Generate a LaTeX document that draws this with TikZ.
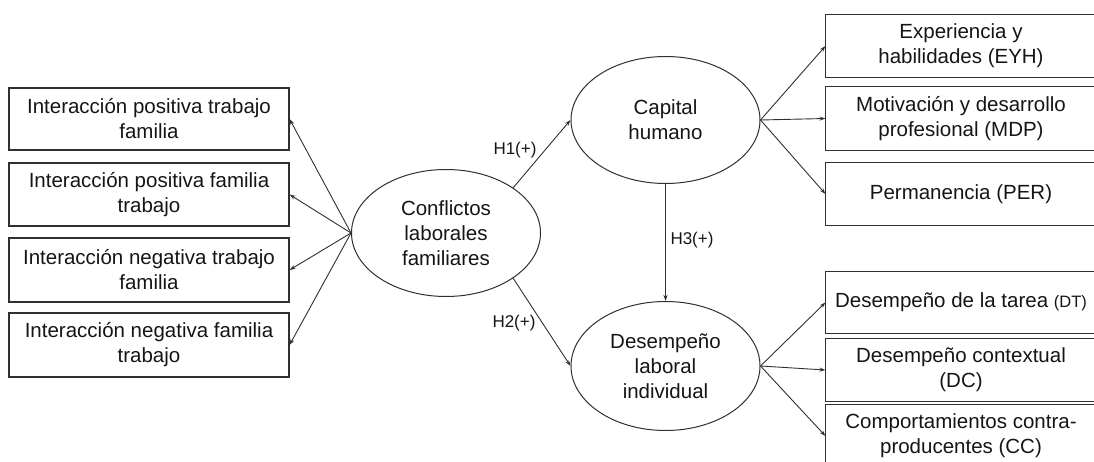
\documentclass[tikz,border=0pt]{standalone}
\usepackage{fontspec}
\setmainfont{Liberation Sans}
\usetikzlibrary{shapes.geometric,arrows.meta}
\definecolor{ln}{HTML}{303030}
\definecolor{tx}{HTML}{151515}
\tikzset{
  boxnode/.style={draw=ln, line width=1.1pt, rectangle, inner sep=0pt, align=center, text=tx,
    font=\fontsize{20.5}{25}\selectfont},
  openbox/.style={boxnode, draw=none},
  frame/.style={draw=ln, line width=1.1pt},
  ellnode/.style={draw=ln, line width=1pt, ellipse, inner sep=0pt, align=center, text=tx,
    minimum width=189pt, minimum height=127pt, font=\fontsize{20.5}{25}\selectfont},
  arr/.style={draw=ln, line width=0.9pt, -{Stealth[length=6pt,width=4pt]}},
  hlabel/.style={text=tx, font=\fontsize{17}{20}\selectfont, inner sep=0pt}
}
\begin{document}
\begin{tikzpicture}[x=1pt,y=-1pt]
\useasboundingbox (0,0) rectangle (1094,462);
\clip (0,0) rectangle (1094,462);
% left boxes
\node[boxnode, minimum width=280pt, minimum height=62pt] (lb1) at (149,119) {Interacción positiva trabajo\\familia};
\node[boxnode, minimum width=280pt, minimum height=63pt] (lb2) at (149,194.5) {Interacción positiva familia\\trabajo};
\node[boxnode, minimum width=280pt, minimum height=64pt] (lb3) at (149,270) {Interacción negativa trabajo\\familia};
\node[boxnode, minimum width=280pt, minimum height=64pt] (lb4) at (149,345) {Interacción negativa familia\\trabajo};
% ellipses
\node[ellnode] (conf) at (446,233) {Conflictos\\laborales\\familiares};
\node[ellnode] (cap) at (665.5,120) {Capital\\humano};
\node[ellnode, minimum height=129pt] (des) at (665.5,366) {Desempeño\\laboral\\individual};
% right boxes (their right edges run past the picture's edge)
\node[openbox, minimum width=270pt, minimum height=62pt] (rb1) at (961,46) {Experiencia y\\habilidades (EYH)};
\node[openbox, minimum width=270pt, minimum height=63pt] (rb2) at (961,118.5) {Motivación y desarrollo\\profesional (MDP)};
\node[openbox, minimum width=270pt, minimum height=62pt] (rb3) at (961,194) {Permanencia (PER)};
\node[openbox, minimum width=270pt, minimum height=61pt] (rb4) at (961,302.5) {Desempeño de la tarea {\fontsize{16.5}{20}\selectfont(DT)}};
\node[openbox, minimum width=270pt, minimum height=62pt] (rb5) at (961,370) {Desempeño contextual\\(DC)};
\node[openbox, minimum width=270pt, minimum height=62pt] (rb6) at (961,436) {Comportamientos contra-\\producentes (CC)};
\foreach \b in {rb1,rb2,rb3,rb4,rb5,rb6}
  \draw[frame] (\b.north west) rectangle ([xshift=30pt]\b.south east);
% connectors
\foreach \b in {lb1,lb2,lb3,lb4} \draw[arr] (conf.west) -- (\b.east);
\foreach \b in {rb1,rb2,rb3} \draw[arr] (cap.east) -- (\b.west);
\foreach \b in {rb4,rb5,rb6} \draw[arr] (des.east) -- (\b.west);
\draw[arr] (conf.north east) -- (cap.west);
\draw[arr] (conf.south east) -- (des.west);
\draw[arr] (cap.south) -- (des.north);
% labels
\node[hlabel] (h1) at (515,150) {H1(+)};
\node[hlabel] (h2) at (514,323) {H2(+)};
\node[hlabel] (h3) at (692,240) {H3(+)};
\end{tikzpicture}
\end{document}
